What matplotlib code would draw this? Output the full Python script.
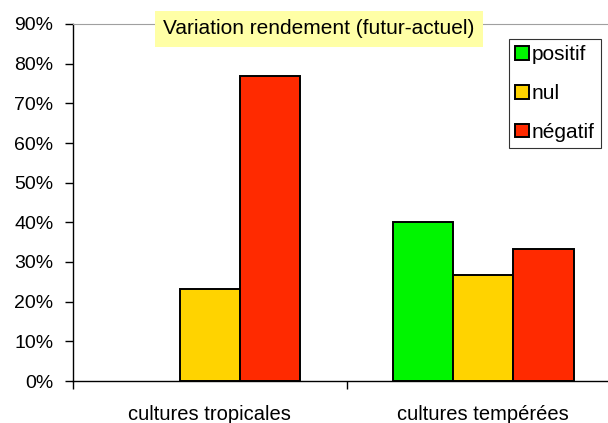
import numpy as np
import matplotlib.pyplot as plt
from matplotlib.ticker import FuncFormatter

plt.rcParams['font.family'] = ['Liberation Sans', 'DejaVu Sans']

categories = ['cultures tropicales', 'cultures tempérées']
series = ['positif', 'nul', 'négatif']
positif = [0.0, 40.0]
nul = [23.1, 26.7]
negatif = [76.9, 33.3]
colors = ['#00F500', '#FFD300', '#FF2A00']

fig = plt.figure(figsize=(6.08, 4.23), dpi=100)
ax = fig.add_axes([73 / 608, 42 / 423, 547 / 608, 357 / 423])

x = np.arange(len(categories))
w = 0.22
for i, (name, vals) in enumerate(zip(series, [positif, nul, negatif])):
    # no outline for empty bars
    edges = ['black' if v > 0 else 'none' for v in vals]
    ax.bar(x + (i - 1) * w, vals, width=w, color=colors[i], edgecolor=edges,
           linewidth=1.4, label=name, zorder=3)

ax.set_xlim(-0.5, 1.5)
ax.set_ylim(0, 90)
ax.set_yticks(np.arange(0, 91, 10))
ax.yaxis.set_major_formatter(FuncFormatter(lambda v, p: f'{v:.0f}%'))
ax.tick_params(axis='y', labelsize=14, length=6, width=1, direction='out', pad=8)

ax.set_xticks(x)
ax.set_xticklabels(categories, fontsize=14.5)
ax.set_xticks([-0.5, 0.5, 1.5], minor=True)
ax.tick_params(axis='x', which='major', length=0, pad=17)
ax.tick_params(axis='x', which='minor', length=6, width=1, direction='out')

ax.spines['top'].set_color('#A0A0A0')
ax.spines['right'].set_visible(False)
ax.spines['left'].set_linewidth(1)
ax.spines['bottom'].set_linewidth(1)

fig.text(319 / 608, 1 - 29 / 423, 'Variation rendement (futur-actuel)', fontsize=15,
         ha='center', va='center',
         bbox=dict(boxstyle='square,pad=0.4', facecolor='#FFFFA6', edgecolor='none'))

handles, labels = ax.get_legend_handles_labels()
leg = ax.legend(handles, labels, loc='upper left',
                bbox_to_anchor=(509 / 608, 1 - 39 / 423),
                bbox_transform=fig.transFigure, fontsize=15, frameon=True,
                fancybox=False, edgecolor='black', handlelength=0.65,
                handleheight=0.65, handletextpad=0.15, labelspacing=0.95,
                borderpad=0.3, borderaxespad=0)
leg.get_frame().set_linewidth(0.8)
for h in leg.legend_handles:
    h.set_edgecolor('black')

fig.savefig('out.png', dpi=100)
